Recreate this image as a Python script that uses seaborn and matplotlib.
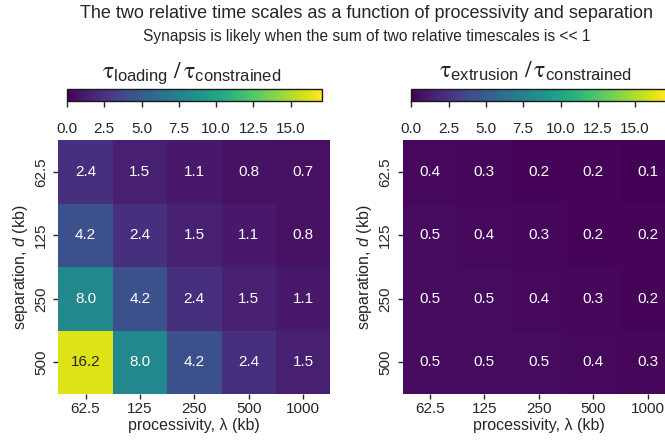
import matplotlib
matplotlib.use("Agg")
import matplotlib.pyplot as plt
import pandas as pd
import seaborn as sns

# Grid axes: processivity (columns) and separation (rows), both in kb
processivity = ["62.5", "125", "250", "500", "1000"]
separation = ["62.5", "125", "250", "500"]

# tau_loading / tau_constrained
loading_ratio = [
    [2.4, 1.5, 1.1, 0.8, 0.7],
    [4.2, 2.4, 1.5, 1.1, 0.8],
    [8.0, 4.2, 2.4, 1.5, 1.1],
    [16.2, 8.0, 4.2, 2.4, 1.5],
]

# tau_extrusion / tau_constrained
extrusion_ratio = [
    [0.4, 0.3, 0.2, 0.2, 0.1],
    [0.5, 0.4, 0.3, 0.2, 0.2],
    [0.5, 0.5, 0.4, 0.3, 0.2],
    [0.5, 0.5, 0.5, 0.4, 0.3],
]

cbar_ticks = [0.0, 2.5, 5.0, 7.5, 10.0, 12.5, 15.0]
color_max = 17.1

title = "The two relative time scales as a function of processivity and separation"
subtitle = "Synapsis is likely when the sum of two relative timescales is << 1"
labels = [
    r"$\mathrm{\tau}_{\mathregular{loading}}\ /\,\mathrm{\tau}_{\mathregular{constrained}}$",
    r"$\mathrm{\tau}_{\mathregular{extrusion}}\ /\,\mathrm{\tau}_{\mathregular{constrained}}$",
]

sns.set_theme(style="ticks")
plt.rcParams["font.family"] = ["Liberation Sans", "DejaVu Sans"]
plt.rcParams["mathtext.fontset"] = "custom"
plt.rcParams["mathtext.rm"] = "Liberation Sans"
plt.rcParams["mathtext.it"] = "Liberation Sans:italic"
plt.rcParams["mathtext.sf"] = "Liberation Sans"
plt.rcParams["text.color"] = "#262626"

W, H = 665, 441
fig = plt.figure(figsize=(W / 100, H / 100), dpi=100)


def box(x0, y0, x1, y1):
    """Axes rectangle from pixel corners measured from the top-left."""
    return [x0 / W, 1 - y1 / H, (x1 - x0) / W, (y1 - y0) / H]


fig.text(366 / W, 1 - 17.5 / H, title, ha="center", va="baseline", fontsize=13)
fig.text(366.5 / W, 1 - 41.5 / H, subtitle, ha="center", va="baseline", fontsize=11.2)

panels = [(loading_ratio, labels[0], 58.3), (extrusion_ratio, labels[1], 402.7)]

for data, label, x0 in panels:
    ax = fig.add_axes(box(x0, 140, x0 + 272, 394))
    cax = fig.add_axes(box(x0 + 8.7, 88.7, x0 + 263.7, 101.2))
    df = pd.DataFrame(data, index=separation, columns=processivity)
    sns.heatmap(
        df, ax=ax, cbar_ax=cax, cmap="viridis", vmin=0, vmax=color_max,
        annot=True, fmt=".1f", annot_kws={"size": 11},
        cbar_kws={"orientation": "horizontal", "ticks": cbar_ticks},
    )
    cb = ax.collections[0].colorbar
    cb.outline.set_linewidth(1.0)
    cb.outline.set_edgecolor("#1a1a1a")
    cax.tick_params(axis="x", length=4.5, width=1, pad=10.5, labelsize=11, colors="#262626")
    cax.xaxis.set_ticks_position("bottom")

    ax.set_xlabel("processivity, λ (kb)", fontsize=11.5, labelpad=2)
    ax.set_ylabel("separation, $d$ (kb)", fontsize=11.5, labelpad=3)
    ax.tick_params(axis="both", length=3.5, width=1, labelsize=11, colors="#262626")
    ax.tick_params(axis="x", pad=2)
    ax.tick_params(axis="y", pad=4)
    plt.setp(ax.get_xticklabels(), rotation=0)
    plt.setp(ax.get_yticklabels(), rotation=90, va="center")

    fig.text((x0 + 133) / W, 1 - 78 / H, label, ha="center", va="baseline",
             fontsize=17, math_fontfamily="stix")

fig.savefig("out.png", dpi=100)
